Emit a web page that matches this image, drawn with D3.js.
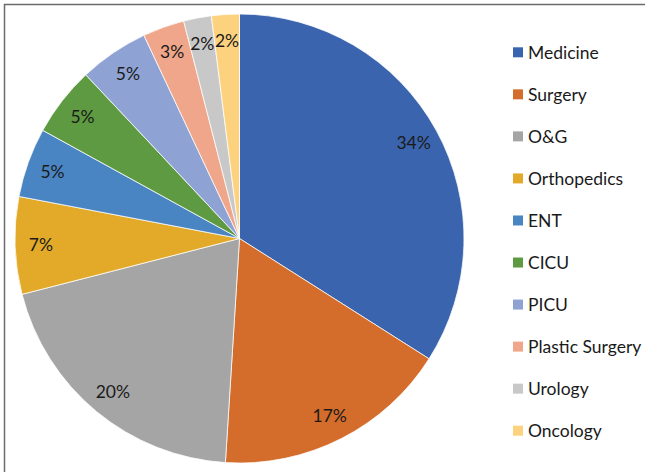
<!DOCTYPE html>
<html><head><meta charset="utf-8">
<script src="https://cdn.jsdelivr.net/npm/d3@7"></script>
<style>html,body{margin:0;padding:0;background:#fff;}svg{display:block;}</style>
</head><body>
<script>
const categories = ["Medicine","Surgery","O&G","Orthopedics","ENT","CICU","PICU","Plastic Surgery","Urology","Oncology"];
const values = [34,17,20,7,5,5,5,3,2,2];
const labels = ["34%","17%","20%","7%","5%","5%","5%","3%","2%","2%"];
const colors = ["#3A64AD","#D46C2B","#A5A5A5","#E2AA28","#4A85C3","#5E9A41","#8FA2D4","#EFA68A","#C8C8C8","#FDD27F"];

const W = 645, H = 472;
const svg = d3.select("body").append("svg").attr("width", W).attr("height", H);
svg.append("rect").attr("x",4.5).attr("y",4.5).attr("width",800).attr("height",800)
  .attr("fill","none").attr("stroke","#6b6b6b").attr("stroke-width",1.5);

const cx = 239.5, cy = 238.5, r = 224.5;
const pie = d3.pie().sort(null).value(d => d)(values);
const arc = d3.arc().innerRadius(0).outerRadius(r);
const labelArc = d3.arc().innerRadius(r*0.885).outerRadius(r*0.885);
const g = svg.append("g").attr("transform", `translate(${cx},${cy})`);
g.selectAll("path").data(pie).join("path")
  .attr("d", arc).attr("fill", (d,i) => colors[i])
  .attr("stroke","#fff").attr("stroke-width",0.75);
g.selectAll("text").data(pie).join("text")
  .attr("transform", d => `translate(${labelArc.centroid(d)})`)
  .attr("text-anchor","middle").attr("dy","0.36em")
  .attr("font-family","Lato, sans-serif").attr("font-size",17.5).attr("fill","#1a1a1a")
  .text((d,i) => labels[i]);

const y = d3.scalePoint().domain(categories).range([52.3, 430.7]);
const lg = svg.append("g");
const items = lg.selectAll("g").data(categories).join("g")
  .attr("transform", d => `translate(513,${y(d)})`);
items.append("rect").attr("x",0).attr("y",-5).attr("width",10).attr("height",10)
  .attr("fill", (d,i) => colors[i]);
items.append("text").attr("x",15).attr("dy","0.36em")
  .attr("font-family","Lato, sans-serif").attr("font-size",17.5).attr("fill","#1a1a1a")
  .text(d => d);
</script>
</body></html>
